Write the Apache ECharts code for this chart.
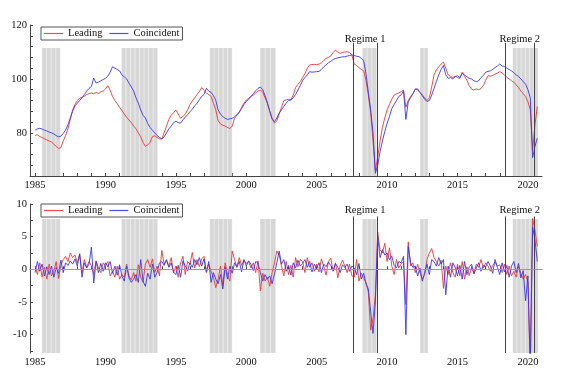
<!DOCTYPE html>
<html><head><meta charset="utf-8">
<script src="https://cdn.jsdelivr.net/npm/echarts@6/dist/echarts.min.js"></script>
<style>html,body{margin:0;padding:0;background:#fff}#c{width:567px;height:378px}</style>
</head><body><div id="c"></div>
<script>
// ---- data (bi-monthly observations starting Jan 1985) ----
const startYear = 1985;
const stepsPerYear = 6;

const leadingLevel = [
79.0,79.3,78.6,78.3,77.8,77.4, 77.0,76.6,75.8,75.0,74.2,74.5, 77.0,79.0,81.5,85.0,88.5,90.5,
92.0,92.8,93.2,93.6,94.2,94.6, 94.8,94.5,95.0,94.6,95.2,95.5, 96.3,97.5,95.8,93.5,92.0,90.8,
89.5,88.3,87.0,85.8,84.8,83.8, 82.5,81.5,80.0,78.5,76.5,75.0, 75.5,76.5,78.6,78.9,78.3,77.8,
77.7,80.0,82.5,85.0,86.5,87.5, 88.5,87.0,85.4,86.0,87.0,88.5, 90.5,91.8,93.0,94.2,95.3,96.8,
95.8,94.7,94.2,93.5,91.0,88.5, 84.5,83.3,82.8,82.5,82.0,81.6, 82.5,85.4,86.5,87.5,89.5,91.0,
92.2,92.8,93.5,94.0,94.8,95.5, 95.9,95.0,93.0,91.0,88.0,85.5, 83.6,84.5,87.0,89.5,92.0,92.2,
92.5,92.3,94.0,96.8,98.0,99.0, 100.5,102.0,104.0,105.2,105.3,105.4, 105.3,105.5,106.0,106.8,107.6,108.0,
108.5,109.8,110.7,110.0,109.5,109.8, 110.0,110.1,109.8,108.8,105.5,105.0, 104.2,103.5,103.0,99.5,94.0,87.5,
77.0,66.0,71.0,77.0,82.0,85.5, 88.5,90.5,92.5,94.0,94.5,94.8, 95.3,95.8,89.5,92.0,93.5,94.5,
96.3,96.0,95.0,94.1,93.0,92.0, 93.0,97.0,101.5,103.3,104.5,105.5, 106.2,104.0,101.5,101.0,100.5,101.0,
100.5,100.2,102.5,101.0,99.5,97.5, 96.2,95.9,96.3,96.0,96.5,97.5, 99.5,101.2,101.0,101.3,101.8,102.2,
102.7,102.3,101.5,100.6,100.0,99.3, 98.8,97.8,96.8,95.5,94.5,93.5, 91.5,88.5,73.5,83.0,89.8
];
const coincidentLevel = [
81.0,81.5,81.7,81.4,81.0,80.7, 80.3,80.0,79.6,79.0,78.5,78.8, 79.8,81.0,83.0,85.5,88.0,90.0,
91.0,92.0,93.0,94.2,95.5,96.5, 97.2,100.3,98.5,98.8,99.3,99.8, 100.2,101.0,102.5,104.5,104.0,103.5,
103.0,101.5,100.8,100.0,98.5,97.0, 95.5,93.0,91.0,88.5,86.5,85.5, 83.5,82.0,81.0,80.0,79.0,78.3,
77.8,78.5,80.0,81.5,82.5,83.8, 84.3,83.8,83.6,84.8,85.8,86.8, 87.8,88.8,90.0,91.0,92.3,93.5,
94.3,96.5,95.5,95.0,93.8,92.0, 88.5,87.0,86.0,85.4,85.0,85.2, 85.4,86.0,86.7,87.8,89.0,90.5,
91.6,92.5,93.5,94.5,95.6,96.5, 97.0,96.0,93.8,91.0,88.0,85.0, 84.2,85.5,87.3,88.5,89.8,91.0,
92.0,92.2,93.0,94.2,95.9,97.5, 99.5,100.5,101.5,102.7,102.5,102.6, 102.7,102.8,103.5,104.5,105.2,106.0,
106.5,107.2,107.6,107.8,108.0,108.2, 108.2,108.5,108.7,108.9,108.7,108.4, 108.3,107.6,106.8,102.0,95.0,88.5,
80.0,65.0,68.0,73.0,77.0,80.5, 83.5,86.0,89.0,90.5,92.0,93.5, 94.1,95.6,85.0,91.5,93.0,94.5,
96.2,96.3,95.0,93.8,92.5,91.6, 92.0,94.0,96.5,99.0,101.5,103.5, 105.0,101.5,100.2,100.5,100.0,100.8,
101.2,100.5,102.0,101.5,100.8,100.2, 100.0,99.3,99.0,99.3,100.5,101.3, 102.5,102.8,103.0,103.5,104.2,104.8,
105.5,104.8,104.6,104.0,103.5,103.0, 102.3,101.5,100.9,100.0,99.0,98.0, 96.0,93.0,70.8,75.0,78.0
];
const leadingChange = [
0.5,-0.8,1.0,-1.2,0.3,-1.5, 0.8,-1.0,-0.3,1.2,-1.4,0.6, 1.5,2.0,1.2,2.5,1.8,2.2,
1.0,2.3,-0.5,1.5,0.3,1.2, 0.5,-0.8,1.3,0.2,-0.5,1.0, 0.6,1.2,-1.0,-0.3,-1.2,0.5,
-1.5,-0.8,-1.2,0.8,-1.0,-1.6, -0.5,-1.8,0.7,-1.2,-2.0,0.8, 1.5,0.3,1.6,-0.5,0.5,-1.0,
2.9,0.8,1.5,0.5,1.8,-0.5, 0.5,-1.2,1.0,2.0,-0.8,1.2, 0.8,2.6,0.2,1.5,0.4,1.6,
2.0,-0.5,0.8,-0.3,-1.2,-2.8, -1.5,0.5,-2.5,1.0,-0.8,-1.8, 2.8,1.5,0.4,1.8,0.6,1.4,
0.9,1.2,0.2,1.0,-0.5,1.3, -3.3,-0.6,-1.8,-1.2,-2.6,-0.5, 1.0,2.8,2.2,0.5,-1.0,1.2,
-0.8,0.6,-1.2,1.8,0.4,1.5, 1.2,-0.5,1.8,0.3,1.0,-0.3, 0.8,-0.4,1.6,0.5,-0.9,1.2,
1.7,-0.3,1.0,-1.3,0.6,1.4, 0.5,-0.5,0.8,-1.0,-1.2,1.5, -1.8,-0.6,-1.4,-2.0,-3.5,-9.3,
-7.5,-4.0,5.7,3.0,2.5,4.0, 1.2,3.3,0.5,-0.8,1.5,0.2, 0.8,1.2,-5.4,4.2,0.5,1.0,
-0.5,0.8,-0.5,-1.5,-0.8,1.5, 2.5,3.2,1.8,1.2,0.5,1.4, -2.9,0.5,-0.8,1.0,-0.5,-1.2,
0.8,-1.0,1.2,-1.5,0.4,-1.0, 0.3,-0.6,0.8,0.3,1.5,0.2, 1.0,0.5,-0.3,0.6,1.1,0.5,
0.7,-0.5,0.8,-0.8,0.5,-1.0, -0.3,-1.2,0.5,-0.6,-1.5,-0.8, -2.0,-15.0,7.8,6.0,3.5
];
const coincidentChange = [
-0.5,1.2,-0.3,0.8,-1.0,0.4, -0.8,0.5,-1.2,0.3,-0.6,1.4, -0.5,1.0,0.6,1.3,0.8,1.6,
0.5,2.4,-1.2,1.0,0.2,0.8, 3.4,-2.1,1.2,-0.5,0.9,-0.3, 1.0,0.4,1.2,-0.6,0.5,-0.9,
0.7,-1.0,-1.8,0.5,-1.3,-2.0, -1.5,-0.8,-2.0,1.5,-1.8,-2.6, -0.6,-1.5,0.8,-1.2,-0.5,1.0,
1.2,0.6,1.4,0.3,1.0,-0.4, -0.8,0.6,-1.2,1.3,0.5,-0.2, 1.0,0.3,1.5,0.7,1.8,0.5,
1.6,-0.4,1.2,-2.0,-0.5,-1.5, -2.2,-0.8,-3.0,0.4,-1.5,0.5, -0.6,1.0,0.3,1.2,-0.4,1.5,
0.5,1.3,0.8,-0.2,1.2,1.0, -0.5,-1.8,-0.8,-1.5,-1.0,-2.2, -0.7,1.0,2.8,0.8,1.5,-0.3,
0.6,-0.9,1.0,0.2,1.4,0.5, 0.9,1.5,0.3,1.2,-0.4,0.8, 0.2,1.0,-0.5,0.8,0.4,1.1,
0.6,-0.2,0.9,0.3,-0.5,0.7, 0.3,0.8,-0.3,0.5,0.2,-0.8, 0.9,-1.5,-0.6,-2.2,-3.0,-6.5,
-9.8,-5.0,5.0,1.8,3.0,2.2, 2.5,1.5,2.0,0.6,0.2,1.2, 1.0,2.0,-10.0,3.5,1.0,0.3,
0.5,-1.0,0.2,-1.8,-0.5,0.8, -0.8,1.5,1.2,0.5,1.8,0.8, 1.5,-3.9,0.5,-1.2,1.0,0.3,
-1.0,0.6,-1.5,1.2,-0.8,0.4, 0.8,-0.7,0.2,1.0,-0.3,0.6, 0.4,1.2,0.5,-0.6,1.5,0.3,
-0.8,1.0,-0.4,0.6,-1.2,0.5, 1.2,-0.5,0.9,-1.3,-0.2,-4.8, -1.0,-15.0,6.5,4.5,1.2
];

// shaded periods and regime windows (years)
const recessions = [[1985.48,1986.8],[1991.13,1993.71],[1997.4,1999.0],[2000.97,2002.09],[2008.24,2009.26],[2012.33,2012.92],[2018.91,2020.73]];
const regimeNames = ['Regime 1','Regime 2'];
const regimeStarts = [2007.6, 2018.39];
const regimeEnds = [2009.28, 2020.45];

// axis ticks / labels
const yearTicks = [1985,1986,1987,1988,1989,1990,1991,1992,1993,1994,1995,1996,1997,1998,1999,2000,2001,2002,2003,2004,2005,2006,2007,2008,2009,2010,2011,2012,2013,2014,2015,2016,2017,2018,2019,2020];
const yearLabels = [1985,1990,1995,2000,2005,2010,2015,2020];
const levelTicks = [64,68,72,76,80,84,88,92,96,100,104,108,112,116,120];
const levelLabels = [80,100,120];
const changeTicks = [-12.5,-10,-7.5,-5,-2.5,0,2.5,5,7.5,10];
const changeLabels = [-10,-5,0,5,10];

// ---- chart ----
const FONT = 'Liberation Serif';
const RED = 'rgba(236,52,52,0.88)';
const BLUE = 'rgba(52,52,236,0.88)';
const X_MIN = 1984.64, X_MAX = 2021.0;
const LEVEL_MIN = 64, LEVEL_MAX = 120;
const CHANGE_MIN = -12.8, CHANGE_MAX = 10;

function toPairs(arr){ return arr.map((v,i)=>[startYear + i/stepsPerYear, v]); }

function bandAreas(yMin, yTop){
  const out = [];
  recessions.forEach(([s,e])=>{
    out.push([{coord:[s,yMin], itemStyle:{color:'#ebebeb'}},{coord:[e,yTop]}]);
    const n = Math.max(1, Math.round((e-s)/0.32));
    const w = (e-s)/n;
    for(let k=0;k<n;k++){
      out.push([{coord:[s+k*w+0.035,yMin], itemStyle:{color:'#d7d7d7'}},{coord:[s+(k+1)*w-0.035,yTop]}]);
    }
  });
  regimeNames.forEach((nm,i)=>{
    out.push([{coord:[regimeStarts[i],yMin], itemStyle:{color:'rgba(0,0,0,0)'},
      label:{show:true, position:'top', distance:3, formatter:nm, color:'#111', fontFamily:FONT, fontSize:10.5}},
      {coord:[regimeEnds[i],yTop]}]);
  });
  return out;
}
function regimeLines(yMin, yTop){
  const out = [];
  regimeNames.forEach((nm,i)=>{
    [regimeStarts[i], regimeEnds[i]].forEach(x=>{
      out.push([{coord:[x,yMin]},{coord:[x,yTop]}]);
    });
  });
  return out;
}

function xAxisCfg(idx){
  return {type:'value', gridIndex:idx, min:X_MIN, max:X_MAX,
    axisLine:{show:true, lineStyle:{color:'#444', width:1}},
    axisTick:{show:true, inside:true, length:3, customValues:yearTicks, lineStyle:{color:'#444'}},
    axisLabel:{customValues:yearLabels, formatter:v=>String(v), fontFamily:FONT, fontSize:10.5, color:'#111', margin:4},
    splitLine:{show:false}};
}
function yAxisCfg(idx, mn, mx, ticks, labels){
  return {type:'value', gridIndex:idx, min:mn, max:mx,
    axisLine:{show:true, lineStyle:{color:'#444', width:1}},
    axisTick:{show:true, inside:true, length:3, customValues:ticks, lineStyle:{color:'#444'}},
    axisLabel:{customValues:labels, formatter:v=>String(v), fontFamily:FONT, fontSize:10.5, color:'#111', margin:3},
    splitLine:{show:false}};
}
function legendCfg(top){
  return {top:top, left:41, orient:'horizontal', data:['Leading','Coincident'],
    icon:'rect', itemWidth:19, itemHeight:1.2, itemGap:7, padding:[1,3,1,3],
    borderColor:'#555', borderWidth:1, backgroundColor:'#fff',
    textStyle:{fontFamily:FONT, fontSize:10.5, color:'#111', lineHeight:11}};
}
function lineSeries(name, data, color, xi){
  return {name:name, type:'line', xAxisIndex:xi, yAxisIndex:xi, data:toPairs(data),
    symbol:'none', showSymbol:false, clip:true, z:3,
    lineStyle:{color:color, width:1}, itemStyle:{color:color}, emphasis:{disabled:true}};
}
function helperSeries(xi, yMin, bandTop, lineTop, extraLines){
  return {name:'shade'+xi, type:'line', xAxisIndex:xi, yAxisIndex:xi, data:[], z:1, silent:true,
    markArea:{silent:true, data:bandAreas(yMin, bandTop)},
    markLine:{silent:true, symbol:['none','none'], label:{show:false},
      lineStyle:{color:'#444', width:1, type:'solid'},
      data:regimeLines(yMin, lineTop).concat(extraLines)}};
}

const chart = echarts.init(document.getElementById('c'), null, {renderer:'canvas'});
chart.setOption({
  animation:false,
  backgroundColor:'#fff',
  grid:[{left:30, right:25, top:25, height:151},{left:30, right:25, top:204, height:149}],
  xAxis:[xAxisCfg(0), xAxisCfg(1)],
  yAxis:[yAxisCfg(0, LEVEL_MIN, LEVEL_MAX, levelTicks, levelLabels), yAxisCfg(1, CHANGE_MIN, CHANGE_MAX, changeTicks, changeLabels)],
  legend:[legendCfg(27), legendCfg(204)],
  series:[
    helperSeries(0, LEVEL_MIN, 111.5, 113.4, []),
    lineSeries('Leading', leadingLevel, RED, 0),
    lineSeries('Coincident', coincidentLevel, BLUE, 0),
    helperSeries(1, CHANGE_MIN, 7.7, 8.1, [{yAxis:0, lineStyle:{color:'#9a9a9a', width:1}}]),
    lineSeries('Leading', leadingChange, RED, 1),
    lineSeries('Coincident', coincidentChange, BLUE, 1)
  ]
});
</script></body></html>
